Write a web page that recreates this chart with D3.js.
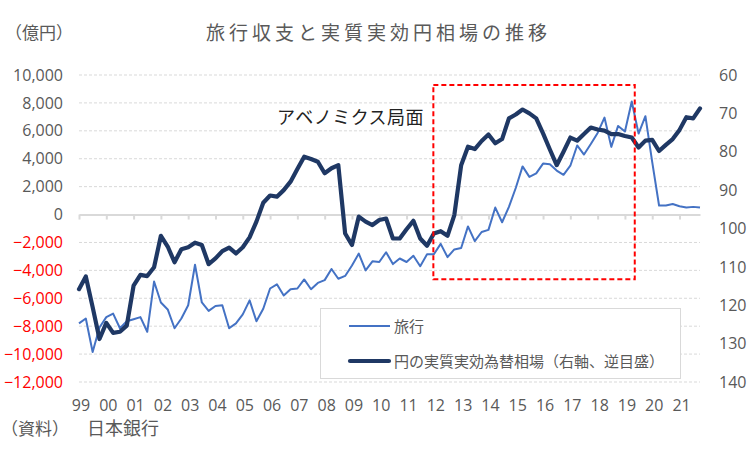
<!DOCTYPE html>
<html><head><meta charset="utf-8">
<script src="https://cdn.jsdelivr.net/npm/d3@7"></script>
<style>
body{margin:0;background:#fff;}
svg{display:block;}
text{font-family:"Noto Sans CJK JP","Noto Sans",sans-serif;}
.num{font-family:"Open Sans","Noto Sans",sans-serif;}
</style></head>
<body>
<svg id="c" width="751" height="450"></svg>
<script>
const years = ["99","00","01","02","03","04","05","06","07","08","09","10","11","12","13","14","15","16","17","18","19","20","21"];
const quarters = ["Q1","Q2","Q3","Q4"];
const categories = years.flatMap(y => quarters.map(q => y + q));
const leftTicks = [10000,8000,6000,4000,2000,0,-2000,-4000,-6000,-8000,-10000,-12000];
const rightTicks = [60,70,80,90,100,110,120,130,140];
const travel = [
 -7800,-7450,-9850,-8100, -7350,-7100,-8150,-7650, -7500,-7350,-8400,-4800,
 -6300,-6800,-8150,-7450, -6500,-3600,-6300,-6900, -6550,-6500,-8150,-7800,
 -7150,-6150,-7650,-6750, -5300,-5000,-5800,-5350, -5300,-4650,-5350,-4900,
 -4700,-3900,-4600,-4400, -3650,-2800,-4000,-3350, -3400,-2700,-3550,-3150,
 -3400,-2950,-3700,-2850, -2850,-2100,-3050,-2500, -2400,-850,-1900,-1250,
 -1100,500,-550,550, 1900,3450,2700,2950, 3650,3600,3150,2850,
 3500,4950,4300,5050, 5850,6950,4850,6350, 5950,8100,5800,7050,
 3750,650,650,750, 600,500,550,500];
const reer = [
 115.8,112.5,120.5,128.8, 124.6,127.2,126.9,125.3, 114.9,112.1,112.4,110.1,
 101.9,104.7,108.8,105.4, 104.9,103.7,104.3,109.3, 107.8,105.9,105.0,106.5,
 104.9,102.3,98.2,93.3, 91.4,91.7,90.0,87.8, 84.5,81.3,81.9,82.6,
 85.6,84.3,83.5,101.3, 104.3,96.9,98.2,99.1, 97.8,97.4,102.6,102.6,
 100.2,98.0,102.6,104.5, 101.3,100.7,101.9,96.5, 83.5,78.7,79.3,77.2,
 75.5,77.8,76.7,71.3, 70.3,69.0,70.0,71.3, 75.2,79.4,83.5,80.0,
 76.3,77.1,75.4,73.7, 74.2,74.5,75.4,75.4, 75.9,76.3,78.9,77.1,
 76.9,79.8,78.2,76.7, 74.3,71.0,71.3,68.7];
const title = "旅行収支と実質実効円相場の推移";
const unitLabel = "（億円）";
const noteLabel = "アベノミクス局面";
const seriesNames = ["旅行","円の実質実効為替相場（右軸、逆目盛）"];
const sourceA = "（資料）", sourceB = "日本銀行";
const abenomicsRange = ["12Q1","19Q2"];
const abenomicsRight = [62.6, 113.2];

const svg = d3.select("#c");
const x = d3.scalePoint().domain(categories).range([79,700]);
const yL = d3.scaleLinear().domain([-12000,10000]).range([382,75]);
const yR = d3.scaleLinear().domain([60,140]).range([75,382]);
const grey = "#595959";

// gridlines
svg.append("g").selectAll("line").data(leftTicks.filter(d=>d!==0)).join("line")
 .attr("x1",79).attr("x2",700).attr("y1",d=>yL(d)).attr("y2",d=>yL(d))
 .attr("stroke","#d9d9d9").attr("stroke-width",1).attr("stroke-dasharray","3,2");

// left axis
const fmt = d3.format(",");
const gL = svg.append("g").attr("transform","translate(63,0)")
 .call(d3.axisLeft(yL).tickValues(leftTicks).tickSize(0).tickPadding(0).tickFormat(fmt));
gL.select(".domain").remove();
gL.selectAll("text").attr("class","num").attr("font-size",16)
 .attr("fill",d=>d<0?"#ff0000":grey);

// right axis
const gR = svg.append("g").attr("transform","translate(719,0)")
 .call(d3.axisRight(yR).tickValues(rightTicks).tickSize(0).tickPadding(0));
gR.select(".domain").remove();
gR.selectAll("text").attr("class","num").attr("font-size",16).attr("fill",grey);

// category axis at zero
const yearStarts = years.map(y=>y+"Q1");
const gX = svg.append("g").attr("transform",`translate(0,${yL(0)})`)
 .call(d3.axisBottom(x).tickValues(yearStarts).tickSize(5).tickSizeOuter(0).tickFormat(""));
gX.select(".domain").attr("stroke","#d9d9d9").attr("stroke-width",2);
gX.selectAll(".tick line").attr("stroke","#d9d9d9").attr("stroke-width",2);

// x labels at bottom
svg.append("g").selectAll("text").data(yearStarts).join("text")
 .attr("class","num").attr("x",d=>x(d)+2).attr("y",411).attr("text-anchor","middle")
 .attr("font-size",16).attr("fill",grey).text(d=>d.slice(0,2));

// lines
const lineT = d3.line().x((d,i)=>x(categories[i])).y(d=>yL(d));
const lineR = d3.line().x((d,i)=>x(categories[i])).y(d=>yR(d));
svg.append("path").datum(travel).attr("d",lineT).attr("fill","none")
 .attr("stroke","#4472c4").attr("stroke-width",2).attr("stroke-linejoin","round");
svg.append("path").datum(reer).attr("d",lineR).attr("fill","none")
 .attr("stroke","#1f3864").attr("stroke-width",4.2).attr("stroke-linejoin","round").attr("stroke-linecap","round");

// abenomics box
const bx0 = x(abenomicsRange[0]) - 0.5, bx1 = x(abenomicsRange[1]) + 3;
svg.append("rect").attr("x",bx0).attr("y",yR(abenomicsRight[0])).attr("width",bx1-bx0)
 .attr("height",yR(abenomicsRight[1])-yR(abenomicsRight[0]))
 .attr("fill","none").attr("stroke","#ff0000").attr("stroke-width",2).attr("stroke-dasharray","5,3");
svg.append("text").attr("x",277).attr("y",124).attr("font-size",18).attr("fill","#222")
 .attr("letter-spacing",0.5).text(noteLabel);

// legend
const lg = svg.append("g");
lg.append("rect").attr("x",320.5).attr("y",308.5).attr("width",360).attr("height",70)
 .attr("fill","#fff").attr("stroke","#d9d9d9").attr("stroke-width",1);
lg.append("line").attr("x1",349).attr("x2",390).attr("y1",326).attr("y2",326)
 .attr("stroke","#4472c4").attr("stroke-width",2);
lg.append("line").attr("x1",350).attr("x2",389).attr("y1",361).attr("y2",361)
 .attr("stroke","#1f3864").attr("stroke-width",4.2).attr("stroke-linecap","round");
lg.selectAll("text.lg").data(seriesNames).join("text").attr("class","lg")
 .attr("x",394).attr("y",(d,i)=>[331.5,366.5][i]).attr("font-size",15).attr("fill",grey).text(d=>d);

// titles
svg.append("text").attr("x",206).attr("y",40).attr("font-size",19).attr("letter-spacing",4)
 .attr("fill",grey).text(title);
svg.append("text").attr("x",5).attr("y",39).attr("font-size",17).attr("fill",grey).text(unitLabel);
svg.append("text").attr("x",1).attr("y",435).attr("font-size",17).attr("fill",grey).text(sourceA);
svg.append("text").attr("x",87).attr("y",435).attr("font-size",18).attr("fill",grey).text(sourceB);
</script>
</body></html>
